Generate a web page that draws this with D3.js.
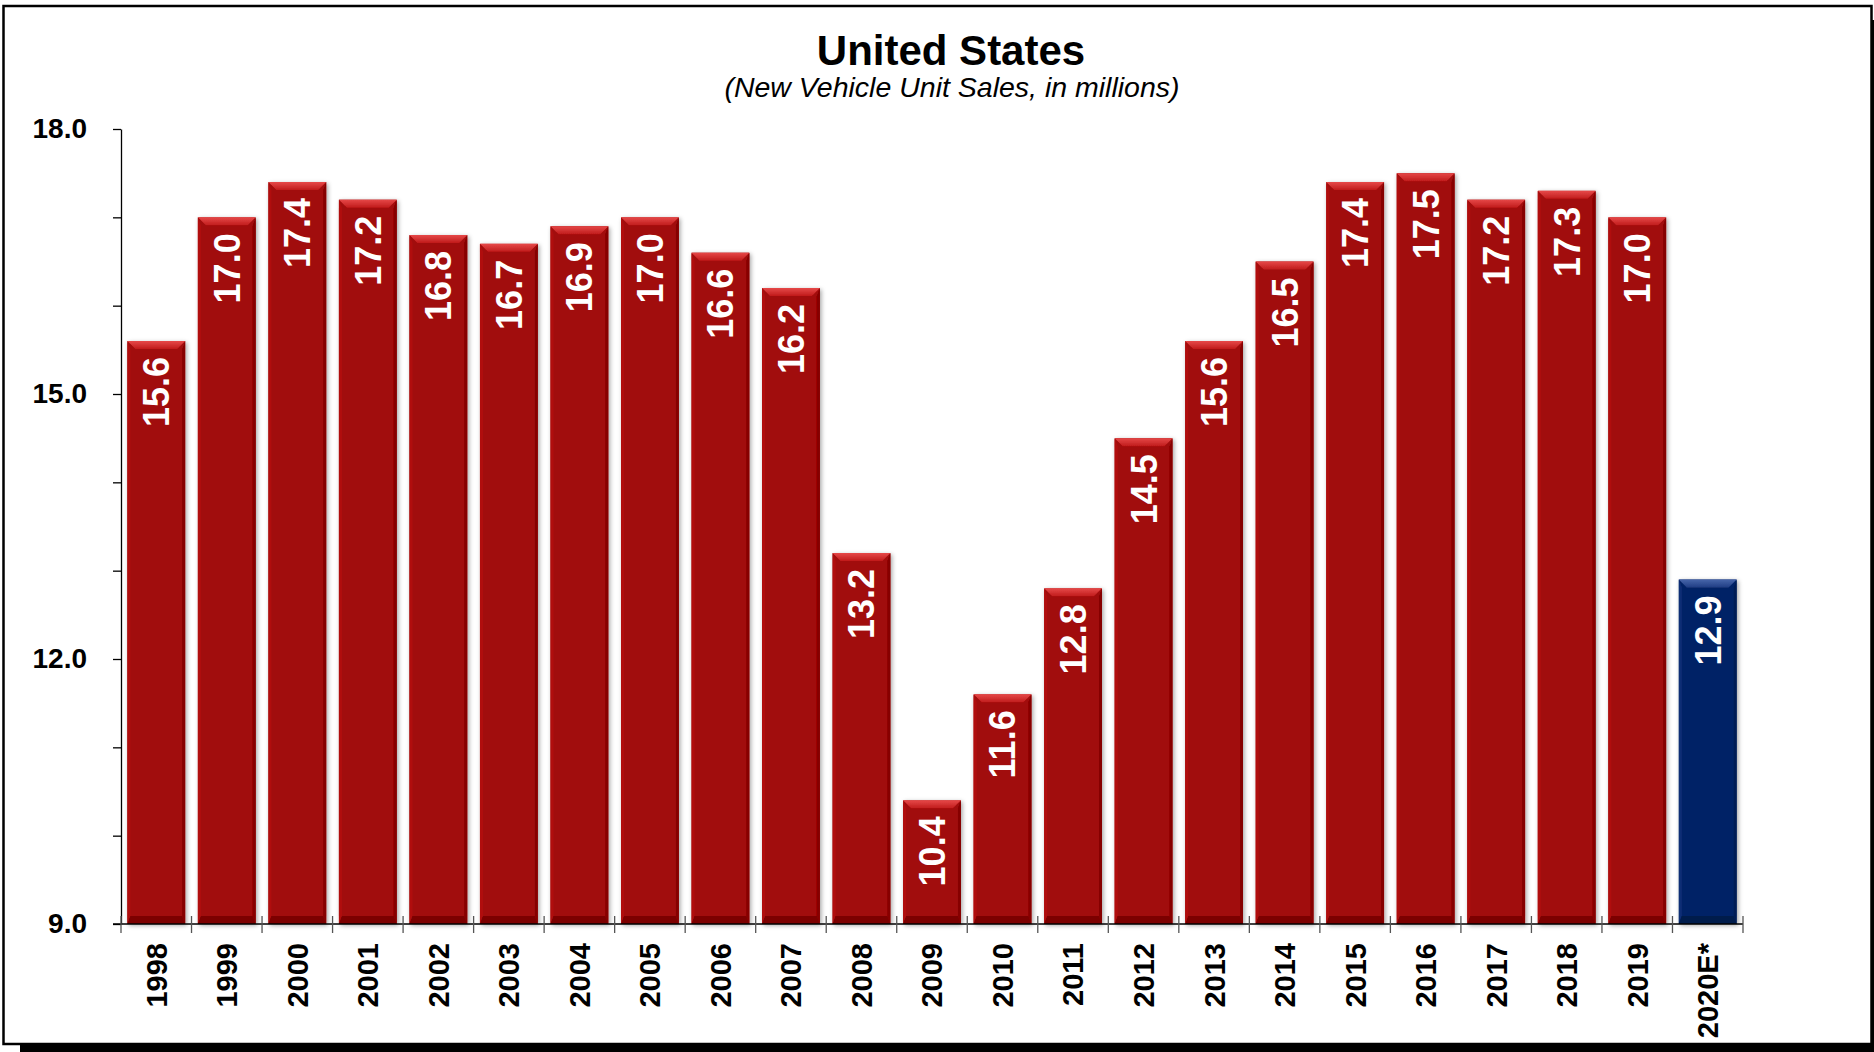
<!DOCTYPE html>
<html>
<head>
<meta charset="utf-8">
<script src="https://cdn.jsdelivr.net/npm/d3@7"></script>
<style>
  html, body { margin: 0; padding: 0; background: #fff; }
  svg { display: block; font-family: "Liberation Sans", Arial, sans-serif; }
</style>
</head>
<body>
<div id="chart"></div>
<script>
(function(d3) {
'use strict';

// chart data
var years = ['1998','1999','2000','2001','2002','2003','2004','2005','2006','2007','2008',
  '2009','2010','2011','2012','2013','2014','2015','2016','2017','2018','2019','2020E*'];
var sales = [15.6, 17.0, 17.4, 17.2, 16.8, 16.7, 16.9, 17.0, 16.6, 16.2, 13.2,
  10.4, 11.6, 12.8, 14.5, 15.6, 16.5, 17.4, 17.5, 17.2, 17.3, 17.0, 12.9];
var estimated = ['2020E*'];
var yTicks = [9, 10, 11, 12, 13, 14, 15, 16, 17, 18];
var yLabels = [9, 12, 15, 18];

var width = 1874;
var height = 1052;
var plot = {left: 121, right: 1743, top: 129, bottom: 924};

var svg = d3.select('#chart')
  .append('svg')
  .attr('width', width)
  .attr('height', height);

var defs = svg.append('defs');

var shadow = defs.append('filter')
  .attr('id', 'barShadow')
  .attr('x', '-20%').attr('y', '-5%')
  .attr('width', '140%').attr('height', '110%');
shadow.append('feDropShadow')
  .attr('dx', 1.5).attr('dy', 1.5)
  .attr('stdDeviation', 2.2)
  .attr('flood-color', '#000')
  .attr('flood-opacity', 0.35);

function grad(id, c1, c2) {
  var g = defs.append('linearGradient')
    .attr('id', id)
    .attr('x1', 0).attr('y1', 0).attr('x2', 0).attr('y2', 1);
  g.append('stop').attr('offset', '0%').attr('stop-color', c1);
  g.append('stop').attr('offset', '100%').attr('stop-color', c2);
}
grad('redTop', '#e64848', '#c01c1c');
grad('blueTop', '#4866aa', '#1f3d84');

var palette = {
  red:  {body: '#a10808', top: 'url(#redTop)', side: '#b00f0f', bottom: '#7c0505', edge: '#860606'},
  blue: {body: '#062466', top: 'url(#blueTop)', side: '#0b2d75', bottom: '#031a4c', edge: '#041d55'}
};

// page frame with shadow
svg.append('rect')
  .attr('x', 20).attr('y', 20)
  .attr('width', width).attr('height', height)
  .attr('fill', '#000');
svg.append('rect')
  .attr('x', 3.5).attr('y', 6)
  .attr('width', 1868).attr('height', 1038)
  .attr('fill', '#fff')
  .attr('stroke', '#000')
  .attr('stroke-width', 2.5);

// title
svg.append('text')
  .attr('x', 951).attr('y', 65)
  .attr('text-anchor', 'middle')
  .attr('font-size', 42)
  .attr('font-weight', 'bold')
  .text('United States');
svg.append('text')
  .attr('x', 952).attr('y', 97)
  .attr('text-anchor', 'middle')
  .attr('font-size', 28.5)
  .attr('font-style', 'italic')
  .text('(New Vehicle Unit Sales, in millions)');

var x = d3.scaleBand()
  .domain(years)
  .range([plot.left, plot.right])
  .paddingInner(0.18)
  .paddingOuter(0.09);

var y = d3.scaleLinear()
  .domain([9, 18])
  .range([plot.bottom, plot.top]);

// y axis
var yAxis = d3.axisLeft(y)
  .tickValues(yTicks)
  .tickSize(8)
  .tickSizeOuter(0)
  .tickPadding(26)
  .tickFormat(function(d) { return yLabels.indexOf(d) >= 0 ? d3.format('.1f')(d) : ''; });

var yG = svg.append('g')
  .attr('transform', 'translate(' + plot.left + ',0)')
  .call(yAxis);
yG.selectAll('path, line').attr('stroke', '#000').attr('stroke-width', 1.3);
yG.selectAll('text')
  .attr('font-size', 28)
  .attr('font-weight', 'bold')
  .attr('font-family', '"Liberation Sans", Arial, sans-serif')
  .attr('fill', '#000');

// bars
var bars = svg.append('g')
  .selectAll('g')
  .data(years.map(function(d, i) { return {year: d, value: sales[i]}; }))
  .enter()
  .append('g')
  .attr('filter', 'url(#barShadow)');

var bev = 8;
var side = 3;

bars.each(function(d) {
  var g = d3.select(this);
  var c = estimated.indexOf(d.year) >= 0 ? palette.blue : palette.red;
  var x0 = x(d.year), x1 = x0 + x.bandwidth();
  var y0 = y(d.value), y1 = y(9);

  g.append('rect')
    .attr('x', x0).attr('y', y0)
    .attr('width', x.bandwidth()).attr('height', y1 - y0)
    .attr('fill', c.body);
  // left and right bevel
  g.append('polygon')
    .attr('points', [[x0, y0], [x0 + side, y0 + bev], [x0 + side, y1 - bev], [x0, y1]].join(' '))
    .attr('fill', c.side);
  g.append('polygon')
    .attr('points', [[x1, y0], [x1 - side, y0 + bev], [x1 - side, y1 - bev], [x1, y1]].join(' '))
    .attr('fill', c.edge);
  // bottom bevel
  g.append('polygon')
    .attr('points', [[x0, y1], [x0 + side, y1 - bev], [x1 - side, y1 - bev], [x1, y1]].join(' '))
    .attr('fill', c.bottom);
  // top bevel
  g.append('polygon')
    .attr('points', [[x0, y0], [x1, y0], [x1 - bev, y0 + bev], [x0 + bev, y0 + bev]].join(' '))
    .attr('fill', c.top);
});

// value labels
svg.append('g')
  .selectAll('text')
  .data(years)
  .enter()
  .append('text')
  .attr('transform', function(d, i) {
    return 'translate(' + (x(d) + x.bandwidth() / 2) + ',' + (y(sales[i]) + 16) + ') rotate(-90)';
  })
  .attr('dy', '0.36em')
  .attr('text-anchor', 'end')
  .attr('font-size', 36)
  .attr('font-weight', 'bold')
  .attr('fill', '#fff')
  .text(function(d, i) { return d3.format('.1f')(sales[i]); });

// x axis
var xG = svg.append('g');
xG.append('line')
  .attr('x1', plot.left - 8).attr('x2', plot.right)
  .attr('y1', y(9)).attr('y2', y(9))
  .attr('stroke', '#000').attr('stroke-width', 1.3);

var bounds = years.map(function(d) { return x(d) - x.step() * x.paddingInner() / 2; });
bounds.push(x(years[years.length - 1]) + x.bandwidth() + x.step() * x.paddingInner() / 2);

xG.selectAll('line.tick')
  .data(bounds)
  .enter()
  .append('line')
  .attr('class', 'tick')
  .attr('x1', function(d) { return d; }).attr('x2', function(d) { return d; })
  .attr('y1', y(9) - 8).attr('y2', y(9) + 9)
  .attr('stroke', '#555').attr('stroke-width', 1.3);

xG.selectAll('text')
  .data(years)
  .enter()
  .append('text')
  .attr('transform', function(d) {
    return 'translate(' + (x(d) + x.bandwidth() / 2) + ',' + (y(9) + 19) + ') rotate(-90)';
  })
  .attr('dy', '0.36em')
  .attr('text-anchor', 'end')
  .attr('font-size', 29)
  .attr('font-weight', 'bold')
  .attr('fill', '#000')
  .text(function(d) { return d; });

})(window.d3);
</script>
</body>
</html>
